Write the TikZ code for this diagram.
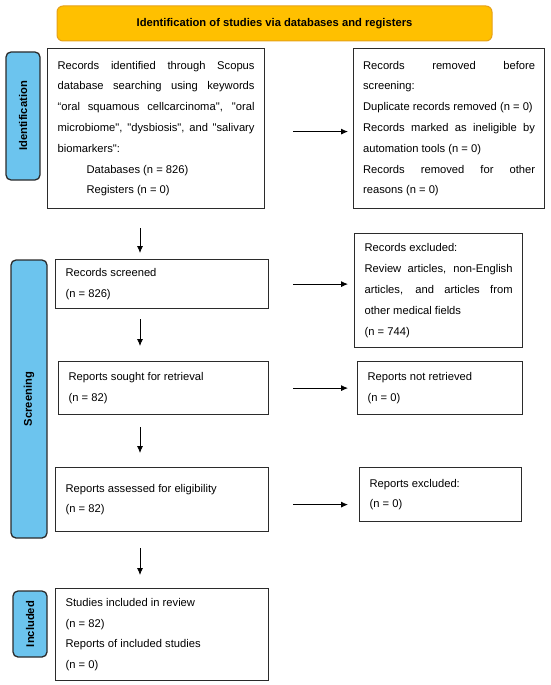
\documentclass[tikz,border=0pt]{standalone}
\usepackage{fontspec}
\setmainfont{Liberation Sans}[Ligatures=TeXOff]
\usetikzlibrary{arrows.meta}
\setlength{\parindent}{0pt}

\definecolor{titleorange}{HTML}{FFC000}
\definecolor{titleedge}{HTML}{E6A117}
\definecolor{barblue}{HTML}{6CC4EE}
\definecolor{edgegray}{HTML}{2B2B2B}

\tikzset{
  recbox/.style={draw=edgegray, line width=1.2pt, anchor=north west, inner xsep=10pt, inner ysep=0pt,
    align=justify, font=\fontsize{11.2}{20.8}\selectfont},
  phasebar/.style={draw=edgegray, fill=barblue, line width=1.3pt, rounded corners=5pt},
  phaselabel/.style={rotate=90, font=\fontsize{11.2}{13}\selectfont\bfseries},
  arr/.style={-{Latex[length=7pt,width=6pt]}, line width=0.8pt, black}
}

\begin{document}
\begin{tikzpicture}[x=1pt, y=-1pt]
			\useasboundingbox (0, 0) rectangle (550, 685); %page as large as the reference

			%title on top
			\draw [fill=titleorange, draw=titleedge, line width=1pt, rounded corners=6pt] (57, 6) rectangle (492, 41);
			\node[font=\fontsize{11.2}{13}\selectfont\bfseries] (title) at (274.5, 23.5) {Identification of studies via databases and registers};

			%phase bars on the left
			\draw [phasebar] (6, 52) rectangle (40, 180);
			\node[phaselabel] (idlabel) at (23, 116) {Identification};
			\draw [phasebar] (11, 260) rectangle (47, 538);
			\node[phaselabel] (screenlabel) at (29, 399) {Screening};
			\draw [phasebar] (13, 591) rectangle (47, 657);
			\node[phaselabel] (incllabel) at (30, 624) {Included};

			%left column
			\node[recbox, text width=197pt, minimum width=217pt, minimum height=160pt] (idrec) at (47, 48) {Records identified through Scopus\linebreak database searching using keywords\linebreak “oral squamous cellcarcinoma", "oral\linebreak microbiome", "dysbiosis", and "salivary\linebreak biomarkers":\\ \hspace*{29pt}Databases (n = 826)\\ \hspace*{29pt}Registers (n = 0)};
			\node[recbox, text width=193pt, minimum width=213pt, minimum height=49pt] (screened) at (55, 259) {Records screened\\ (n = 826)};
			\node[recbox, text width=190pt, minimum width=210pt, minimum height=53pt] (sought) at (58, 361) {Reports sought for retrieval\\ (n = 82)};
			\node[recbox, text width=193pt, minimum width=213pt, minimum height=64pt] (assessed) at (55, 467) {Reports assessed for eligibility\\ (n = 82)};
			\node[recbox, text width=193pt, minimum width=213pt, minimum height=92pt] (studies) at (55, 588) {Studies included in review\\ (n = 82)\\ Reports of included studies\\ (n = 0)};

			%right column
			\node[recbox, text width=172pt, inner xsep=9.5pt, minimum width=191pt, minimum height=160pt] (idrem) at (353, 48) {Records removed before\linebreak screening:\\ Duplicate records removed (n = 0)\\ Records marked as ineligible by\linebreak automation tools (n = 0)\\ Records removed for other\linebreak reasons (n = 0)};
			\node[recbox, text width=148pt, minimum width=168pt, minimum height=114pt] (excluded) at (354, 233) {Records excluded:\\ Review articles, non-English\linebreak articles, and articles from\linebreak other medical fields\\ (n = 744)};
			\node[recbox, text width=145pt, minimum width=165pt, minimum height=53pt] (notret) at (357, 361) {Reports not retrieved\\ (n = 0)};
			\node[recbox, text width=142pt, minimum width=162pt, minimum height=54pt] (repexcl) at (359, 467) {Reports excluded:\\ (n = 0)};

			%arrows down the left column
			\coordinate (mid) at (140, 0); %x of the down arrows
			\draw [arr, shorten <=19pt, shorten >=6pt] (idrec.south -| mid) -- (screened.north -| mid);
			\draw [arr, shorten <=10pt, shorten >=15pt] (screened.south -| mid) -- (sought.north -| mid);
			\draw [arr, shorten <=12pt, shorten >=14pt] (sought.south -| mid) -- (assessed.north -| mid);
			\draw [arr, shorten <=16pt, shorten >=13pt] (assessed.south -| mid) -- (studies.north -| mid);

			%arrows to the right column
			\draw [arr, shorten <=28pt, shorten >=5pt] ([yshift=-3pt]idrec.east) -- ([yshift=-3pt]idrec.east -| idrem.west);
			\draw [arr, shorten <=24pt, shorten >=6pt] (screened.east) -- (screened.east -| excluded.west);
			\draw [arr, shorten <=24pt, shorten >=9pt] (sought.east) -- (sought.east -| notret.west);
			\draw [arr, shorten <=24pt, shorten >=11pt] ([yshift=-5pt]assessed.east) -- ([yshift=-5pt]assessed.east -| repexcl.west);
		\end{tikzpicture}
\end{document}
